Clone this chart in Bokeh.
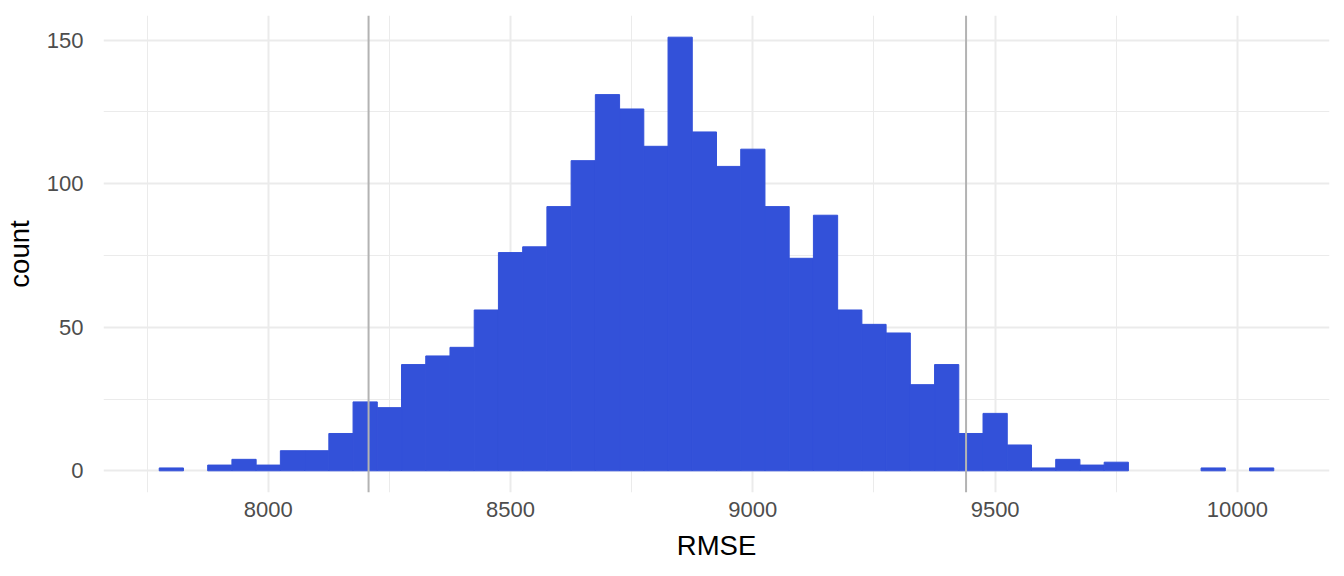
from bokeh.plotting import figure
from bokeh.models import FixedTicker, Range1d, Span, ColumnDataSource
from bokeh.embed import file_html
from bokeh.resources import INLINE

# Histogram of RMSE (bin width 50, first bin starts at 7775)
bin_start = 7775
bin_width = 50
counts = [1, 0, 2, 4, 2, 7, 7, 13, 24, 22,
          37, 40, 43, 56, 76, 78, 92, 108, 131, 126,
          113, 151, 118, 106, 112, 92, 74, 89, 56, 51,
          48, 30, 37, 13, 20, 9, 1, 4, 2, 3,
          0, 0, 0, 1, 0, 1]
interval_lines = [8207, 9440]
x_ticks = [8000, 8500, 9000, 9500, 10000]
x_minor = [7750, 8250, 8750, 9250, 9750]
y_ticks = [0, 50, 100, 150]
y_minor = [25, 75, 125]

left, right, top = [], [], []
for i, c in enumerate(counts):
    if c > 0:
        l = bin_start + i * bin_width
        left.append(l)
        right.append(l + bin_width)
        top.append(c)
src = ColumnDataSource(dict(left=left, right=right, top=top, bottom=[0] * len(top)))

p = figure(width=1336, height=568, output_backend="svg", toolbar_location=None,
           x_range=Range1d(7660, 10190), y_range=Range1d(-7.55, 158.55),
           min_border_left=102, min_border_right=7, min_border_top=15, min_border_bottom=76)
p.outline_line_color = None
p.background_fill_color = "white"
p.border_fill_color = "white"

p.quad(left="left", right="right", top="top", bottom="bottom", source=src,
       fill_color="#3351D9", line_color="#3351D9", line_width=1)

for v in interval_lines:
    p.add_layout(Span(location=v, dimension="height", line_color="#B3B3B3", line_width=2))

p.xaxis.ticker = FixedTicker(ticks=x_ticks, minor_ticks=x_minor)
p.yaxis.ticker = FixedTicker(ticks=y_ticks, minor_ticks=y_minor)

for g in (p.xgrid, p.ygrid):
    g.grid_line_color = "#EBEBEB"
    g.grid_line_width = 2
    g.minor_grid_line_color = "#EBEBEB"
    g.minor_grid_line_width = 1

for ax in (p.xaxis, p.yaxis):
    ax.axis_line_color = None
    ax.major_tick_line_color = None
    ax.minor_tick_line_color = None
    ax.major_label_text_font = "Liberation Sans"
    ax.major_label_text_font_size = "22px"
    ax.major_label_text_color = "#4D4D4D"
    ax.axis_label_text_font = "Liberation Sans"
    ax.axis_label_text_font_size = "27.5px"
    ax.axis_label_text_font_style = "normal"
    ax.axis_label_text_color = "black"

p.xaxis.axis_label = "RMSE"
p.yaxis.axis_label = "count"
p.xaxis.major_label_standoff = 3
p.xaxis.axis_label_standoff = 10
p.yaxis.major_label_standoff = 14
p.yaxis.axis_label_standoff = 9

open("out.html", "w").write(file_html(p, INLINE))
